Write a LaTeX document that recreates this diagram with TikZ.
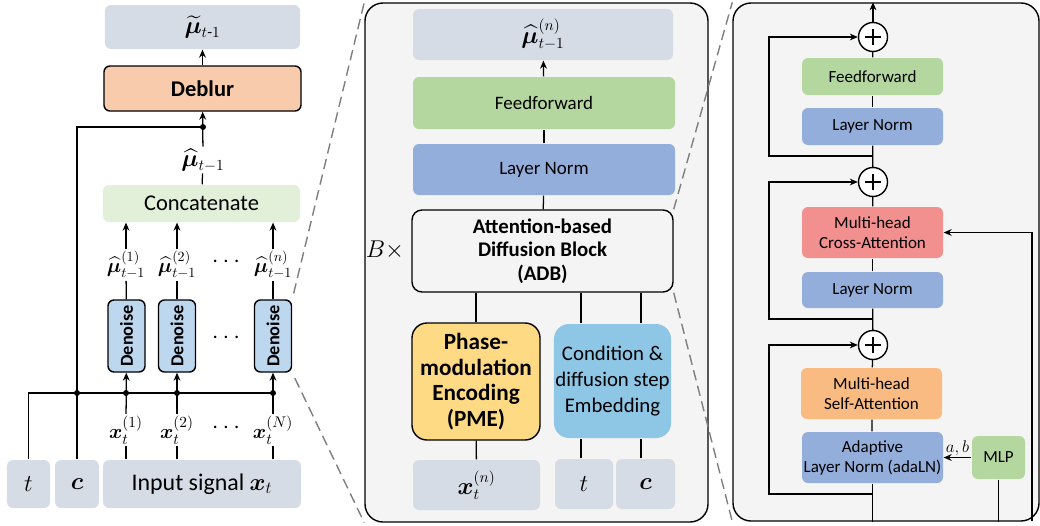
\documentclass[tikz,border=0pt]{standalone}
\usepackage{amsmath}
\usepackage{bm}
\usepackage{fontspec}
\setmainfont{Carlito}
\usepackage{tikz}
\usetikzlibrary{arrows.meta, positioning}
\definecolor{boxgray}{HTML}{D6DCE5}
\definecolor{panelgray}{HTML}{F4F4F4}
\definecolor{deblurpeach}{HTML}{F8CBAD}
\definecolor{catgreen}{HTML}{E2F0D9}
\definecolor{denoiseblue}{HTML}{BDD7EE}
\definecolor{ffgreen}{HTML}{B4D79F}
\definecolor{lnblue}{HTML}{94AEDC}
\definecolor{pmegold}{HTML}{FFDA85}
\definecolor{condblue}{HTML}{8EC6E6}
\definecolor{crossred}{HTML}{F29090}
\definecolor{selforange}{HTML}{F9BB82}
\definecolor{zoomgray}{HTML}{7F7F7F}

\begin{document}
\begin{tikzpicture}[x=0.25mm, y=-0.25mm, >={Stealth[length=2mm, width=1.7mm]}, line width=0.9pt,
    every node/.style={align=center, inner sep=1pt},
    panel/.style={draw, fill=panelgray, rounded corners=4.5mm, line width=1pt, inner sep=0pt},
    flat/.style={rounded corners=1.5mm},
    edged/.style={draw, rounded corners=1.5mm, line width=1pt},
    dot/.style={circle, fill, inner sep=0pt, minimum size=1.5mm},
    addnode/.style={draw, circle, fill=white, inner sep=0pt, minimum size=7.25mm, line width=1pt,
        path picture={\draw[line width=1.4pt]
            ([xshift=-1.9mm]path picture bounding box.center) -- ([xshift=1.9mm]path picture bounding box.center)
            ([yshift=-1.9mm]path picture bounding box.center) -- ([yshift=1.9mm]path picture bounding box.center);}},
    zoomline/.style={draw=zoomgray, dash pattern=on 2.6mm off 1.4mm, line width=1pt},
    bigtxt/.style={font=\fontsize{16}{19}\selectfont},
    midtxt/.style={font=\fontsize{13.5}{16}\selectfont},
    smalltxt/.style={font=\fontsize{12.1}{14.2}\selectfont},
    denoisebox/.style={edged, fill=denoiseblue, minimum width=9.25mm, minimum height=18mm, font=\bfseries\fontsize{13}{13}\selectfont}]
\useasboundingbox (0,0) rectangle (1040,525);

% left: overall pipeline
\node[flat, fill=boxgray, minimum width=48.75mm, minimum height=11mm, bigtxt] (mut) at (202.5,27) {$\widetilde{\bm{\mu}}_{t\text{-}1}$};
\node[edged, fill=deblurpeach, minimum width=49.25mm, minimum height=11.25mm, font=\bfseries\fontsize{16}{19}\selectfont] (deb) at (202.5,88.5) {Deblur};
\node[bigtxt] (mh) at (203,160) {$\widehat{\bm{\mu}}_{t-1}$};
\node[flat, fill=catgreen, minimum width=49.25mm, minimum height=9.25mm, bigtxt] (cat) at (201.5,203.5) {Concatenate};

\node[font=\fontsize{14}{14}\selectfont] (m1) at (126,265) {$\widehat{\bm{\mu}}^{(1)}_{t-1}$};
\node[font=\fontsize{14}{14}\selectfont] (m2) at (177,265) {$\widehat{\bm{\mu}}^{(2)}_{t-1}$};
\node[font=\fontsize{14}{14}\selectfont] (m3) at (273,265) {$\widehat{\bm{\mu}}^{(n)}_{t-1}$};
\node[bigtxt] (mdots) at (228,262) {$\cdots$};

\node[denoisebox] (d1) at (126.5,336) {\rotatebox{90}{Denoise}};
\node[denoisebox] (d2) at (177,336) {\rotatebox{90}{Denoise}};
\node[denoisebox] (d3) at (273,336) {\rotatebox{90}{Denoise}};
\node[bigtxt] (ddots) at (228,338) {$\cdots$};

\node[font=\fontsize{15}{15}\selectfont] (x1) at (126,430) {$\bm{x}^{(1)}_t$};
\node[font=\fontsize{15}{15}\selectfont] (x2) at (177,430) {$\bm{x}^{(2)}_t$};
\node[font=\fontsize{15}{15}\selectfont] (x3) at (273,430) {$\bm{x}^{(N)}_t$};
\node[bigtxt] (xdots) at (228,428) {$\cdots$};

\node[flat, fill=boxgray, minimum width=10.75mm, minimum height=12mm, bigtxt] (tin) at (28.5,484) {$t$};
\node[flat, fill=boxgray, minimum width=11mm, minimum height=12mm, bigtxt] (cin) at (77,484) {$\bm{c}$};
\node[flat, fill=boxgray, minimum width=49.5mm, minimum height=12mm, font=\fontsize{17}{19}\selectfont] (sig) at (202,484) {Input signal $\bm{x}_t$};

\coordinate (jt) at (203,127);
\coordinate (bus) at (273,393);
\draw[->] (deb) -- (mut);
\draw (cat) -- (mh);
\draw[->] (mh) -- (deb);
\draw (cin.north) |- (jt);
\draw (tin.north) |- (bus);
\foreach \i in {1,2,3} {
  \draw[->] (m\i) -- (m\i |- cat.south);
  \draw (d\i) -- (m\i);
  \draw[->] (x\i) -- (d\i);
  \draw (sig.north -| x\i) -- (x\i);
  \node[dot] at (x\i |- bus) {};
}
\node[dot] at (jt) {};
\node[dot] at (cin |- bus) {};

% middle: denoise network
\node[panel, minimum width=85.75mm, minimum height=129.75mm] (mp) at (536.5,262.5) {};
\node[flat, fill=boxgray, minimum width=65mm, minimum height=12.75mm, font=\fontsize{16}{16}\selectfont] (mout) at (543,34.5) {$\widehat{\bm{\mu}}^{(n)}_{t-1}$};
\node[flat, fill=ffgreen, minimum width=65.5mm, minimum height=13mm, midtxt] (mff) at (544,103) {Feedforward};
\node[flat, fill=lnblue, minimum width=65.5mm, minimum height=12.75mm, midtxt] (mln) at (544,169.5) {Layer Norm};
\node[edged, fill=panelgray, rounded corners=2.5mm, minimum width=65.25mm, minimum height=20.5mm, font=\bfseries\fontsize{14.8}{16.7}\selectfont] (adb) at (542.5,251) {Attention-based\\Diffusion Block\\(ADB)};
\node[font=\fontsize{16}{16}\selectfont] (times) at (385,250) {$B\times$};
\node[edged, fill=pmegold, rounded corners=3.75mm, minimum width=32mm, minimum height=29.25mm, font=\bfseries\fontsize{16.5}{18.2}\selectfont] (pme) at (476,381.5) {Phase-\\modulation\\Encoding\\(PME)};
\node[flat, fill=condblue, rounded corners=3.75mm, minimum width=28.75mm, minimum height=28.5mm, font=\fontsize{14.8}{18.5}\selectfont] (cond) at (612.5,381) {Condition \&\\diffusion step\\Embedding};
\node[flat, fill=boxgray, minimum width=31.75mm, minimum height=12.5mm, font=\fontsize{16}{16}\selectfont] (mx) at (476.5,485) {$\bm{x}^{(n)}_t$};
\node[flat, fill=boxgray, minimum width=14.5mm, minimum height=12.5mm, bigtxt] (mt) at (584,484) {$t$};
\node[flat, fill=boxgray, minimum width=14.75mm, minimum height=12.5mm, bigtxt] (mc) at (645.5,484) {$\bm{c}$};

\draw[->] (mff) -- (mout);
\draw (mln) -- (mff);
\draw (adb) -- (mln);
\draw (mx) -- (pme);
\draw (pme.north) -- (pme.north |- adb.south);
\draw ([xshift=-0.75mm]mt.north) -- ([xshift=-0.75mm]mt.north |- cond.south);
\draw ([xshift=-0.75mm]mt.north |- cond.north) -- ([xshift=-0.75mm]mt.north |- adb.south);
\draw ([xshift=-1.1mm]mc.north) -- ([xshift=-1.1mm]mc.north |- cond.south);
\draw ([xshift=-1.1mm]mc.north |- cond.north) -- ([xshift=-1.1mm]mc.north |- adb.south);

% right: inside the ADB
\node[panel, minimum width=76.5mm, minimum height=129.5mm] (rp) at (886,262) {};
\node[addnode] (o1) at (873,37) {};
\node[addnode] (o2) at (873,182) {};
\node[addnode] (o3) at (873,345) {};
\node[flat, fill=ffgreen, minimum width=35.25mm, minimum height=9.25mm, smalltxt] (rff) at (872.5,76.5) {Feedforward};
\node[flat, fill=lnblue, minimum width=35.25mm, minimum height=9.25mm, smalltxt] (rln1) at (872.5,126.5) {Layer Norm};
\node[flat, fill=crossred, minimum width=35.25mm, minimum height=12.75mm, smalltxt] (rca) at (872.5,232.5) {Multi-head\\Cross-Attention};
\node[flat, fill=lnblue, minimum width=35.25mm, minimum height=9mm, smalltxt] (rln2) at (872.5,290) {Layer Norm};
\node[flat, fill=selforange, minimum width=35.25mm, minimum height=12.75mm, smalltxt] (rsa) at (871.5,393.5) {Multi-head\\Self-Attention};
\node[flat, fill=lnblue, minimum width=35.25mm, minimum height=12.75mm, smalltxt] (rada) at (872.5,457.5) {Adaptive\\Layer Norm (adaLN)};
\node[flat, fill=ffgreen, minimum width=13.25mm, minimum height=10.75mm, smalltxt] (mlp) at (998.5,457.5) {MLP};

\coordinate (s1) at (873,156);
\coordinate (s2) at (873,319);
\coordinate (s3) at (873,494);
\coordinate (crossin) at (1032,521);
\draw (rada) -- (rada |- rp.south);
\draw (mlp) -- (mlp |- rp.south);
\draw[->] (crossin) |- (rca);
\draw[->] (mlp) -- node[above, font=\fontsize{13}{13}\selectfont] {$a,b$} (rada);
\draw (rada) -- (rsa);
\draw (rsa) -- (o3);
\draw (o3) -- (rln2);
\draw (rln2) -- (rca);
\draw (rca) -- (o2);
\draw (o2) -- (rln1);
\draw (rln1) -- (rff);
\draw (rff) -- (o1);
\draw[->] (o1) -- (o1 |- rp.north);
\draw[->] (s3) -- ++(-104,0) |- (o3);
\draw[->] (s2) -- ++(-104,0) |- (o2);
\draw[->] (s1) -- ++(-104,0) |- (o1);

% zoom lines
\draw[zoomline, shorten <=1.5mm] (d3.north east) -- (mp.north west);
\draw[zoomline, shorten <=1.5mm] (d3.south east) -- (mp.south west);
\draw[zoomline] (adb.north east) -- (rp.north west);
\draw[zoomline] (adb.south east) -- (rp.south west);
\end{tikzpicture}
\end{document}
